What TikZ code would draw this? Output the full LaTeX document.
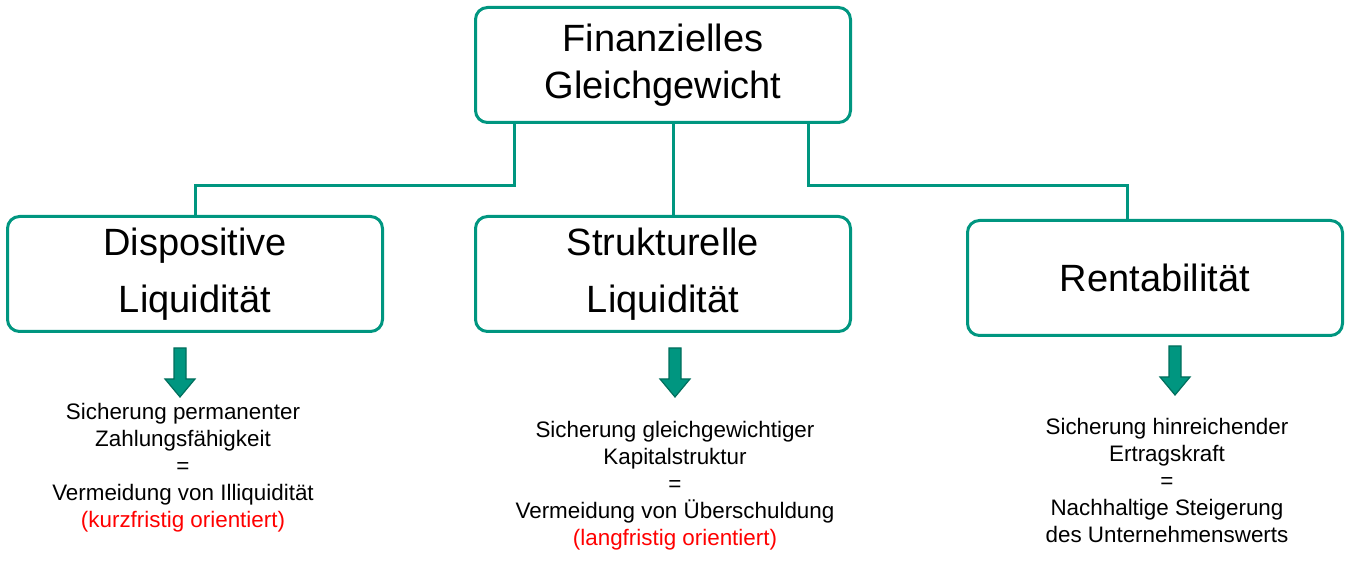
\documentclass[tikz,border=0pt]{standalone}
\usepackage{fontspec}
\setmainfont{Liberation Sans}
\usepackage{tikz}
\definecolor{fgteal}{RGB}{0,150,128}
\definecolor{fgdark}{RGB}{0,110,92}

\tikzset{
  zielbox/.style={draw=fgteal, line width=3pt, rounded corners=12pt, fill=white,
    minimum width=375pt, minimum height=115pt, align=center,
    font=\fontsize{38}{47}\selectfont},
  teilbox/.style={zielbox, font=\fontsize{38}{57}\selectfont},
  ast/.style={draw=fgteal, line width=3pt},
  pfeil/.style={fill=fgteal, draw=fgdark, line width=1.2pt, line join=miter},
  erkl/.style={align=center, font=\fontsize{22.4}{27}\selectfont}
}

\begin{document}
\begin{tikzpicture}[x=1pt,y=-1pt]
\useasboundingbox (0,0) rectangle (1353,561);

\node[zielbox] (fg) at (663,65) {Finanzielles\\Gleichgewicht};
\node[teilbox] (dl) at (195,274) {Dispositive\\Liquidität};
\node[teilbox] (sl) at (663,274) {Strukturelle\\Liquidität};
\node[teilbox] (rent) at (1155,278) {Rentabilität};

% Verbindungen
\draw[ast] (fg.south -| 514,0) |- (195,186) -- (dl.north);
\draw[ast] (fg.south -| 673,0) -- (sl.north -| 673,0);
\draw[ast] (fg.south -| 808,0) |- (1127,186) -- (rent.north -| 1127,0);

% Pfeile
\coordinate (p1) at (180,348);
\coordinate (p2) at (675,348);
\coordinate (p3) at (1175,346);
\foreach \p in {p1,p2,p3}
  \draw[pfeil] (\p) ++(-6,0) -- ++(12,0) -- ++(0,31) -- ++(9,0)
    -- ++(-15,18) -- ++(-15,-18) -- ++(9,0) -- cycle;

\node[erkl] (t1) at (183,468) {Sicherung permanenter\\Zahlungsfähigkeit\\=\\Vermeidung von Illiquidität\\\textcolor{red}{(kurzfristig orientiert)}};
\node[erkl] (t2) at (675,486) {Sicherung gleichgewichtiger\\Kapitalstruktur\\=\\Vermeidung von Überschuldung\\\textcolor{red}{(langfristig orientiert)}};
\node[erkl] (t3) at (1167,480) {Sicherung hinreichender\\Ertragskraft\\=\\Nachhaltige Steigerung\\des Unternehmenswerts};
\end{tikzpicture}
\end{document}
